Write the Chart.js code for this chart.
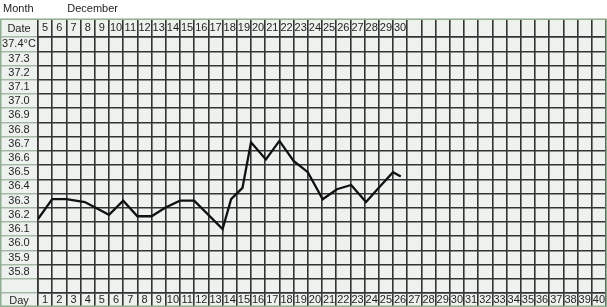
<!DOCTYPE html>
<html>
<head>
<meta charset="utf-8">
<script src="https://cdn.jsdelivr.net/npm/chart.js@4"></script>
<style>
html, body { margin: 0; padding: 0; background: #fff; }
#wrap { width: 607px; height: 307px; }
</style>
</head>
<body>
<div id="wrap"><canvas id="bbtchart"></canvas></div>
<script>
// header
const monthLabel = 'Month';
const monthName = 'December';

// table labels
const dayLabels = ['1','2','3','4','5','6','7','8','9','10','11','12','13','14','15','16','17','18','19','20',
                   '21','22','23','24','25','26','27','28','29','30','31','32','33','34','35','36','37','38','39','40'];
const dateLabels = ['5','6','7','8','9','10','11','12','13','14','15','16','17','18','19','20','21','22','23','24',
                    '25','26','27','28','29','30','','','','','','','','','','','','','',''];
const tempLabels = ['37.4°C','37.3','37.2','37.1','37.0','36.9','36.8','36.7','36.6','36.5','36.4',
                    '36.3','36.2','36.1','36.0','35.9','35.8',''];

// recorded temperatures, one per date (Dec 5 .. Dec 30)
// pointCols = where the point was marked on the sheet, in column widths from the left of day 1
const pointCols = [0, 1, 2, 3.3, 5, 6, 7, 8, 8.95, 10, 11, 13, 13.6, 14.4, 15, 16.05, 17, 18, 19, 20.05,
                   21.05, 22.05, 23.1, 24, 25, 25.55];
const temps = [36.17, 36.31, 36.31, 36.29, 36.20, 36.30, 36.19, 36.19, 36.25, 36.30, 36.30, 36.10, 36.31,
               36.39, 36.71, 36.59, 36.72, 36.58, 36.50, 36.31, 36.38, 36.41, 36.29, 36.39, 36.50, 36.47];

const fontFamily = 'Arial, "Liberation Sans", Helvetica, sans-serif';
const tickFont = { family: fontFamily, size: 11 };
const textColor = '#1e1e1e';
const gridColor = '#333';
const paleLine = '#a3b9a3';
const cellFill = '#eef2ee';
const frameColor = '#8fae8f';

// widest left label, so the column text can be centred
const mctx = document.createElement('canvas').getContext('2d');
mctx.font = '11px ' + fontFamily;
const widest = Math.max(...tempLabels.map(t => mctx.measureText(t).width));

const tableFrame = {
    id: 'tableFrame',
    beforeDraw: chart => {
        const ctx = chart.ctx;
        const top = chart.scales.xDate.top;
        const bottom = chart.scales.xDay.bottom;
        ctx.save();
        ctx.fillStyle = cellFill;
        ctx.fillRect(0, top, chart.width, bottom - top);
        ctx.restore();
    },
    afterDraw: chart => {
        const ctx = chart.ctx;
        const a = chart.chartArea;
        const top = chart.scales.xDate.top;
        const bottom = chart.scales.xDay.bottom;
        ctx.save();
        ctx.font = '11px ' + fontFamily;
        ctx.fillStyle = textColor;
        ctx.textAlign = 'center';
        ctx.textBaseline = 'middle';
        ctx.fillText('Date', a.left / 2, (top + a.top) / 2 + 1);
        ctx.fillText('Day', a.left / 2, (a.bottom + bottom) / 2 + 1);
        ctx.strokeStyle = frameColor;
        ctx.lineWidth = 1.5;
        ctx.strokeRect(0.75, top, chart.width - 1.5, bottom - top - 0.75);
        ctx.restore();
    }
};

const ctx = document.getElementById('bbtchart').getContext('2d');
const chart = new Chart(ctx, {
    type: 'line',
    plugins: [tableFrame],
    data: {
        datasets: [{
            label: 'Temperature',
            data: temps.map((t, i) => ({ x: pointCols[i], y: t })),
            borderColor: '#111',
            borderWidth: 2.3,
            pointRadius: 0,
            tension: 0,
            xAxisID: 'x',
            yAxisID: 'y'
        }]
    },
    options: {
        responsive: true,
        maintainAspectRatio: false,
        animation: false,
        layout: { padding: { left: 0, right: 1, top: 0, bottom: 0 } },
        plugins: {
            legend: { display: false },
            tooltip: { enabled: false },
            title: {
                display: true,
                text: ' ' + monthLabel + '           ' + monthName,
                align: 'start',
                color: textColor,
                font: { family: fontFamily, size: 11, weight: 'normal' },
                padding: { top: 2, bottom: 4 }
            }
        },
        scales: {
            x: { type: 'linear', min: 0, max: 40, display: false },
            y: { type: 'linear', min: 35.65, max: 37.45, display: false },
            xDay: {
                type: 'category',
                labels: dayLabels,
                position: 'bottom',
                offset: true,
                grid: { offset: true, color: gridColor, lineWidth: 1.6, drawTicks: true, tickLength: 14, tickColor: gridColor },
                border: { color: gridColor, width: 1.6 },
                ticks: { autoSkip: false, maxRotation: 0, minRotation: 0, padding: -13.6, color: textColor, font: tickFont },
                afterFit: s => { s.height = 14; }
            },
            xDate: {
                type: 'category',
                labels: dateLabels,
                position: 'top',
                offset: true,
                grid: { offset: true, drawOnChartArea: false, color: gridColor, lineWidth: 1.6, drawTicks: true, tickLength: 18, tickColor: gridColor },
                border: { color: gridColor, width: 1.6 },
                ticks: { autoSkip: false, maxRotation: 0, minRotation: 0, padding: -15.6, color: textColor, font: tickFont },
                afterFit: s => { s.height = 18; }
            },
            yLab: {
                type: 'category',
                labels: tempLabels,
                position: 'left',
                offset: true,
                grid: { offset: true, color: gridColor, lineWidth: 1.6, drawTicks: true, tickLength: 38, tickColor: paleLine },
                border: { color: gridColor, width: 1.6 },
                ticks: { autoSkip: false, crossAlign: 'center', padding: -(19 + widest / 2), color: textColor, font: tickFont },
                afterFit: s => { s.width = 38; }
            }
        }
    }
});
</script>
</body>
</html>
